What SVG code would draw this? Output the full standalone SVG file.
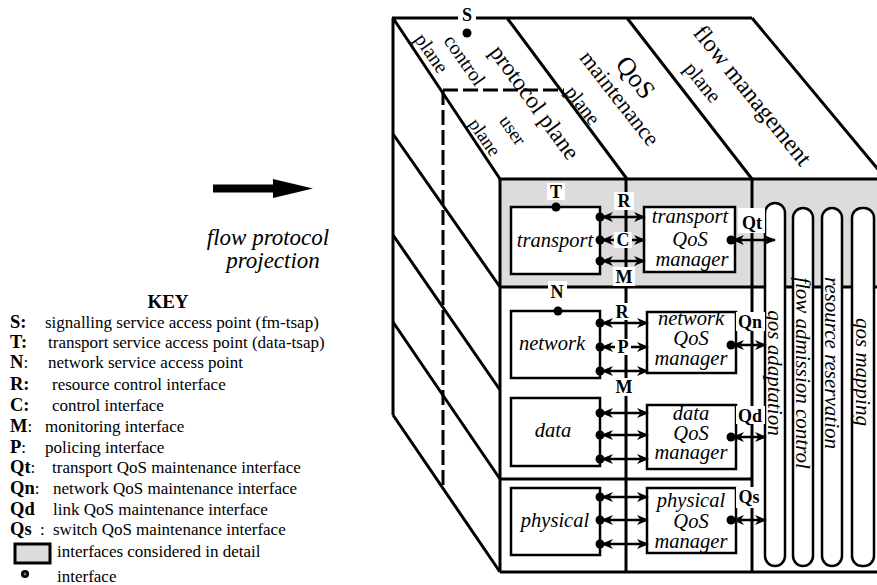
<svg xmlns="http://www.w3.org/2000/svg" width="877" height="585" viewBox="0 0 877 585">
<defs>
<style>
.ln{stroke:#000;stroke-width:3;fill:none}
.dl{stroke:#000;stroke-width:3;fill:none;stroke-dasharray:15 5}
.bx{fill:#fff;stroke:#000;stroke-width:2.5}
.pl{fill:#fff;stroke:#000;stroke-width:2.5}
.ar{stroke:#000;stroke-width:2.5;fill:none;marker-start:url(#ah);marker-end:url(#ah)}
.it{font-family:"Liberation Serif","Times New Roman",serif;font-style:italic;font-size:20.5px;text-anchor:middle}
.pt{font-family:"Liberation Serif","Times New Roman",serif;font-style:italic;font-size:21px;text-anchor:middle}
.lb{font-family:"Liberation Serif","Times New Roman",serif;font-weight:bold;font-size:18px;text-anchor:middle}
.tp{font-family:"Liberation Serif","Times New Roman",serif;text-anchor:middle}
.key{font-family:"Liberation Serif","Times New Roman",serif;font-size:17px}
.kb{font-weight:bold;font-size:18.5px}
.wb{fill:#fff}
.sh{fill:#dcdcdc}
</style>
<marker id="ah" viewBox="0 0 12 10" refX="11" refY="5" markerWidth="12" markerHeight="10" markerUnits="userSpaceOnUse" orient="auto-start-reverse">
<path d="M0,0 L12,5 L0,10 L3.5,5 z" fill="#000"/>
</marker>
</defs>
<rect width="877" height="585" fill="#fff"/>

<!-- projection arrow and caption -->
<g id="projection">
<polygon points="213,184.5 273,184.5 273,179 313,188.5 273,198 273,192.5 213,192.5" fill="#000"/>
<text class="tp" font-style="italic" font-size="23" x="268" y="245">flow protocol</text>
<text class="tp" font-style="italic" font-size="23" x="273" y="268">projection</text>
</g>

<!-- key -->
<g id="key" class="key">
<text x="168" y="308" text-anchor="middle" font-weight="bold" font-size="19">KEY</text>
<text y="328"><tspan x="10" class="kb">S:</tspan><tspan x="45">signalling service access point (fm-tsap)</tspan></text>
<text y="348"><tspan x="10" class="kb">T:</tspan><tspan x="48">transport service access point (data-tsap)</tspan></text>
<text y="368"><tspan x="10" class="kb">N</tspan><tspan>:</tspan><tspan x="48">network service access point</tspan></text>
<text y="390"><tspan x="10" class="kb">R:</tspan><tspan x="52">resource control interface</tspan></text>
<text y="411"><tspan x="10" class="kb">C:</tspan><tspan x="52">control interface</tspan></text>
<text y="432"><tspan x="10" class="kb">M</tspan><tspan>:</tspan><tspan x="45">monitoring interface</tspan></text>
<text y="453"><tspan x="10" class="kb">P</tspan><tspan>:</tspan><tspan x="45">policing interface</tspan></text>
<text y="473"><tspan x="10" class="kb">Qt</tspan><tspan>:</tspan><tspan x="52">transport QoS maintenance interface</tspan></text>
<text y="494"><tspan x="10" class="kb">Qn</tspan><tspan>:</tspan><tspan x="53">network QoS maintenance interface</tspan></text>
<text y="515"><tspan x="10" class="kb">Qd</tspan><tspan x="53">link QoS maintenance interface</tspan></text>
<text y="535"><tspan x="10" class="kb">Qs</tspan><tspan x="40">:</tspan><tspan x="53">switch QoS maintenance interface</tspan></text>
<rect x="15" y="544" width="35" height="19" class="sh" stroke="#000" stroke-width="3"/>
<text x="57" y="557">interfaces considered in detail</text>
<circle cx="25" cy="574" r="4" fill="#000"/>
<circle cx="25" cy="574" r="1.5" fill="#777"/>
<text x="57" y="582">interface</text>
</g>

<!-- cube faces -->
<g id="cube">
<rect x="500" y="179" width="380" height="108" class="sh"/>
<path class="ln" d="M392,18 H752 M393,18 V415 M393,18 L500,179 M507,18 L627,179 M627,18 L752,179 M752,18 L886,179"/>
<path class="ln" d="M500,179 H877 M500,287 H877 M500,479 H753 M500,572 H877 M500,179 V572 M626,179 V572 M752,179 V572"/>
<path class="ln" d="M393,134 L500,287 M393,235 L500,390 M393,322 L500,479 M393,415 L500,572"/>
<path class="dl" d="M443,90 H564 M443,90 V488"/>
</g>

<!-- top face labels -->
<g id="top-labels" class="tp">
<text font-size="20" transform="translate(465,60) rotate(55)" dy="0.35em">control</text>
<text font-size="20" transform="translate(432,53) rotate(55)" dy="0.35em">plane</text>
<text font-size="23.5" transform="translate(535,102) rotate(54)" dy="0.35em">protocol plane</text>
<text font-size="19" transform="translate(513,130) rotate(55)" dy="0.35em">user</text>
<text font-size="19" transform="translate(485,137) rotate(55)" dy="0.35em">plane</text>
<text font-size="26" transform="translate(636,77) rotate(52)" dy="0.35em">QoS</text>
<text font-size="22.5" transform="translate(620,98) rotate(52)" dy="0.35em">maintenance</text>
<text font-size="20" transform="translate(583,105) rotate(52)" dy="0.35em">plane</text>
<text font-size="24" transform="translate(753,95) rotate(51)" dy="0.35em">flow management</text>
<text font-size="21" transform="translate(703,82) rotate(51)" dy="0.35em">plane</text>
</g>

<!-- protocol plane nodes -->
<g id="transport">
<rect class="bx" x="511" y="207" width="89" height="67"/>
<text class="it" x="555" y="247">transport</text>
</g>
<g id="network">
<rect class="bx" x="511" y="311" width="89" height="67"/>
<text class="it" x="552" y="350">network</text>
</g>
<g id="data">
<rect class="bx" x="511" y="398" width="89" height="68"/>
<text class="it" x="553" y="437">data</text>
</g>
<g id="physical">
<rect class="bx" x="511" y="488" width="89" height="67"/>
<text class="it" x="555" y="527">physical</text>
</g>

<!-- QoS managers -->
<g id="transport-qos-manager">
<rect class="bx" x="644" y="207" width="91" height="65"/>
<text class="it" x="690" y="223">transport</text>
<text class="it" x="690" y="246">QoS</text>
<text class="it" x="692" y="266">manager</text>
</g>
<g id="network-qos-manager">
<rect class="bx" x="647" y="312" width="89" height="61"/>
<text class="it" x="691" y="325">network</text>
<text class="it" x="691" y="345">QoS</text>
<text class="it" x="691" y="365">manager</text>
</g>
<g id="data-qos-manager">
<rect class="bx" x="647" y="405" width="89" height="64"/>
<text class="it" x="691" y="420">data</text>
<text class="it" x="691" y="440">QoS</text>
<text class="it" x="691" y="459">manager</text>
</g>
<g id="physical-qos-manager">
<rect class="bx" x="647" y="488" width="89" height="65"/>
<text class="it" x="691" y="507">physical</text>
<text class="it" x="691" y="528">QoS</text>
<text class="it" x="691" y="548">manager</text>
</g>

<!-- flow management plane -->
<g id="qos-adaptation">
<rect class="pl" x="765" y="203" width="20" height="363" rx="10"/>
<text class="pt" transform="translate(775,373) rotate(90)" dy="0.33em">qos adaptation</text>
</g>
<g id="flow-admission-control">
<rect class="pl" x="793" y="208" width="20" height="358" rx="10"/>
<text class="pt" transform="translate(803,373) rotate(90)" dy="0.33em">flow admission control</text>
</g>
<g id="resource-reservation">
<rect class="pl" x="822" y="208" width="20" height="358" rx="10"/>
<text class="pt" transform="translate(832,363) rotate(90)" dy="0.33em">resource reservation</text>
</g>
<g id="qos-mapping">
<rect class="pl" x="852" y="208" width="22" height="358" rx="10"/>
<text class="pt" transform="translate(863,372) rotate(90)" dy="0.33em">qos mapping</text>
</g>

<!-- connectors -->
<g id="connectors">
<path class="ar" d="M602,217 H645"/>
<path class="ar" d="M602,240 H645"/>
<path class="ar" d="M602,261 H645"/>
<path class="ar" d="M602,323 H648"/>
<path class="ar" d="M602,347 H648"/>
<path class="ar" d="M602,371 H648"/>
<path class="ar" d="M602,413 H648"/>
<path class="ar" d="M602,435 H648"/>
<path class="ar" d="M602,459 H648"/>
<path class="ar" d="M602,497 H648"/>
<path class="ar" d="M602,520 H648"/>
<path class="ar" d="M602,544 H648"/>
<path class="ar" d="M733,240 H775"/>
<path class="ar" d="M733,345 H766"/>
<path class="ar" d="M733,437 H766"/>
<path class="ar" d="M733,520 H766"/>
</g>

<!-- interface labels with white backgrounds -->
<g id="labels">
<rect class="wb" x="458" y="5" width="18" height="18"/>
<text class="lb" x="467" y="21">S</text>
<rect class="wb" x="547" y="183" width="18" height="17"/>
<text class="lb" x="556" y="198">T</text>
<rect class="wb" x="614" y="192" width="20" height="18"/>
<text class="lb" x="624" y="207">R</text>
<rect class="wb" x="614" y="232" width="18" height="16"/>
<text class="lb" x="623" y="246">C</text>
<rect class="wb" x="613" y="267" width="22" height="19"/>
<text class="lb" x="624" y="283">M</text>
<rect class="wb" x="548" y="281" width="19" height="19"/>
<text class="lb" x="557" y="298">N</text>
<rect class="wb" x="613" y="303" width="19" height="17"/>
<text class="lb" x="622" y="318">R</text>
<rect class="wb" x="615" y="339" width="16" height="16"/>
<text class="lb" x="623" y="353">P</text>
<rect class="wb" x="613" y="378" width="22" height="18"/>
<text class="lb" x="624" y="393">M</text>
<rect class="wb" x="738" y="208" width="27" height="25"/>
<text class="lb" x="752" y="229">Qt</text>
<rect class="wb" x="736" y="312" width="29" height="19"/>
<text class="lb" x="750" y="328">Qn</text>
<rect class="wb" x="736" y="406" width="29" height="18"/>
<text class="lb" x="750" y="422">Qd</text>
<rect class="wb" x="736" y="487" width="26" height="21"/>
<text class="lb" x="749" y="503">Qs</text>
</g>

<!-- interface dots -->
<g id="dots" fill="#000">
<circle cx="467" cy="33" r="4.5"/>
<circle cx="556" cy="207" r="4.5"/>
<circle cx="558" cy="311" r="4.5"/>
<circle cx="600" cy="217" r="4.5"/><circle cx="600" cy="240" r="4.5"/><circle cx="600" cy="261" r="4.5"/>
<circle cx="600" cy="323" r="4.5"/><circle cx="600" cy="347" r="4.5"/><circle cx="600" cy="371" r="4.5"/>
<circle cx="600" cy="413" r="4.5"/><circle cx="600" cy="435" r="4.5"/><circle cx="600" cy="459" r="4.5"/>
<circle cx="600" cy="497" r="4.5"/><circle cx="600" cy="520" r="4.5"/><circle cx="600" cy="544" r="4.5"/>
<circle cx="731" cy="240" r="4.5"/><circle cx="731" cy="345" r="4.5"/><circle cx="731" cy="437" r="4.5"/><circle cx="731" cy="520" r="4.5"/>
</g>
</svg>
